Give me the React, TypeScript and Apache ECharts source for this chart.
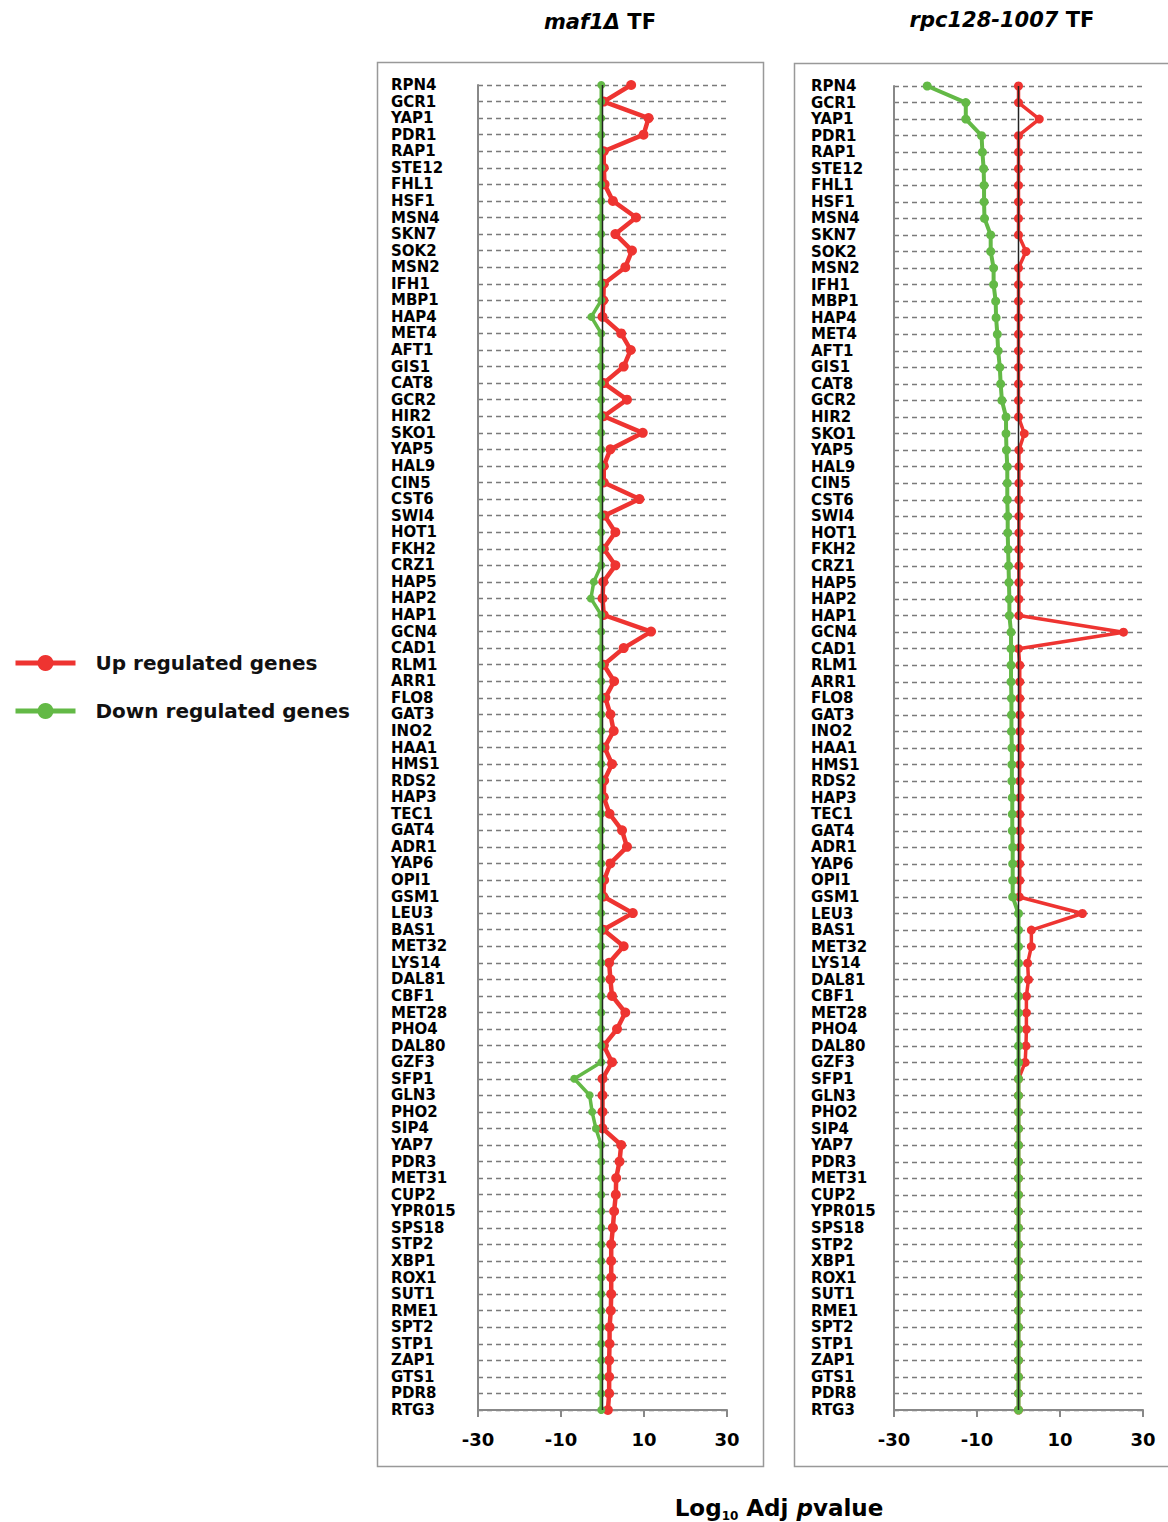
import React, { useEffect, useRef } from 'react';
import * as echarts from 'echarts';

const categories = [
  'RPN4', 'GCR1', 'YAP1', 'PDR1', 'RAP1', 'STE12', 'FHL1', 'HSF1', 'MSN4', 'SKN7',
  'SOK2', 'MSN2', 'IFH1', 'MBP1', 'HAP4', 'MET4', 'AFT1', 'GIS1', 'CAT8', 'GCR2',
  'HIR2', 'SKO1', 'YAP5', 'HAL9', 'CIN5', 'CST6', 'SWI4', 'HOT1', 'FKH2', 'CRZ1',
  'HAP5', 'HAP2', 'HAP1', 'GCN4', 'CAD1', 'RLM1', 'ARR1', 'FLO8', 'GAT3', 'INO2',
  'HAA1', 'HMS1', 'RDS2', 'HAP3', 'TEC1', 'GAT4', 'ADR1', 'YAP6', 'OPI1', 'GSM1',
  'LEU3', 'BAS1', 'MET32', 'LYS14', 'DAL81', 'CBF1', 'MET28', 'PHO4', 'DAL80', 'GZF3',
  'SFP1', 'GLN3', 'PHO2', 'SIP4', 'YAP7', 'PDR3', 'MET31', 'CUP2', 'YPR015', 'SPS18',
  'STP2', 'XBP1', 'ROX1', 'SUT1', 'RME1', 'SPT2', 'STP1', 'ZAP1', 'GTS1', 'PDR8',
  'RTG3',
];

// maf1Δ TF panel
const maf1Up = [
  6.9, 0.3, 11.1, 9.9, 0.3, 0.3, 0.5, 2.5, 8.1, 3.1,
  7.1, 5.5, 0.3, 0.2, 0.0, 4.5, 6.8, 5.1, 0.3, 5.9,
  0.3, 9.7, 1.9, 0.3, 0.3, 8.9, 0.5, 3.1, 0.3, 3.1,
  0.2, 0.0, 0.3, 11.7, 5.1, 0.3, 2.8, 0.7, 1.9, 2.7,
  0.5, 2.3, 0.4, 0.3, 1.7, 4.7, 5.9, 1.9, 0.4, 0.2,
  7.3, 0.2, 5.1, 1.6, 1.9, 2.3, 5.5, 3.5, 0.3, 2.3,
  0.0, 0.0, 0.0, 0.0, 4.5, 4.1, 3.3, 3.2, 2.8, 2.5,
  2.1, 2.1, 2.1, 2.1, 2.0, 1.7, 1.7, 1.6, 1.6, 1.6,
  1.3,
];
const maf1Down = [
  -0.3, -0.3, -0.3, -0.3, -0.3, -0.3, -0.3, -0.3, -0.3, -0.3,
  -0.3, -0.3, -0.3, -0.3, -2.7, -0.3, -0.3, -0.3, -0.3, -0.3,
  -0.3, -0.3, -0.3, -0.3, -0.3, -0.3, -0.3, -0.3, -0.3, -0.3,
  -2.1, -2.8, -0.3, -0.3, -0.3, -0.3, -0.3, -0.3, -0.3, -0.3,
  -0.3, -0.3, -0.3, -0.3, -0.3, -0.3, -0.3, -0.3, -0.3, -0.3,
  -0.3, -0.3, -0.3, -0.3, -0.3, -0.3, -0.3, -0.3, -0.3, -0.3,
  -6.8, -3.1, -2.5, -1.6, -0.3, -0.3, -0.3, -0.3, -0.3, -0.3,
  -0.3, -0.3, -0.3, -0.3, -0.3, -0.3, -0.3, -0.3, -0.3, -0.3,
  -0.3,
];

// rpc128-1007 TF panel
const rpcUp = [
  0.0, 0.0, 5.0, 0.0, 0.0, 0.0, 0.0, 0.0, 0.0, 0.0,
  1.8, 0.0, 0.0, 0.0, 0.0, 0.0, 0.0, 0.0, 0.0, 0.0,
  0.0, 1.4, 0.1, 0.1, 0.1, 0.1, 0.1, 0.1, 0.1, 0.1,
  0.1, 0.1, 0.1, 25.3, 0.0, 0.3, 0.3, 0.3, 0.3, 0.3,
  0.3, 0.3, 0.3, 0.3, 0.3, 0.3, 0.3, 0.3, 0.3, 0.2,
  15.4, 3.1, 3.1, 2.2, 2.4, 1.9, 1.9, 1.9, 1.8, 1.6,
  0.0, 0.0, 0.0, 0.0, 0.0, 0.0, 0.0, 0.0, 0.0, 0.0,
  0.0, 0.0, 0.0, 0.0, 0.0, 0.0, 0.0, 0.0, 0.0, 0.0,
  0.0,
];
const rpcDown = [
  -22.0, -12.7, -12.7, -8.9, -8.7, -8.4, -8.3, -8.3, -8.2, -6.7,
  -6.7, -6.0, -6.0, -5.5, -5.4, -5.1, -4.9, -4.5, -4.3, -4.0,
  -3.0, -3.0, -2.9, -2.7, -2.7, -2.7, -2.6, -2.6, -2.5, -2.4,
  -2.3, -2.2, -2.2, -1.8, -1.8, -1.8, -1.8, -1.7, -1.7, -1.7,
  -1.6, -1.6, -1.6, -1.5, -1.5, -1.5, -1.4, -1.4, -1.4, -1.4,
  0.0, 0.0, 0.0, 0.0, 0.0, 0.0, 0.0, 0.0, 0.0, 0.0,
  0.0, 0.0, 0.0, 0.0, 0.0, 0.0, 0.0, 0.0, 0.0, 0.0,
  0.0, 0.0, 0.0, 0.0, 0.0, 0.0, 0.0, 0.0, 0.0, 0.0,
  0.0,
];

const xMin = -30;
const xMax = 30;
const xInterval = 20;
const seriesNames = ['Up regulated genes', 'Down regulated genes'];
const panelTitles = [
  { name: 'maf1Δ', suffix: 'TF' },
  { name: 'rpc128-1007', suffix: 'TF' },
];

const RED = '#EE3431';
const GREEN = '#63B946';
const FONT = 'DejaVu Sans';

const pair = (vals: number[]) => vals.map((v, i) => [v, categories[i]]);
const zeroLine = [[0, categories[0]], [0, categories[categories.length - 1]]];

function panelSeries(
  idx: number, up: number[], down: number[],
  upWidth: number, upSize: number, downWidth: number, downSize: number,
) {
  return [
    {
      name: seriesNames[0], type: 'line', xAxisIndex: idx, yAxisIndex: idx,
      data: pair(up), symbol: 'circle', symbolSize: upSize,
      lineStyle: { color: RED, width: upWidth }, itemStyle: { color: RED }, z: 2,
    },
    {
      name: seriesNames[1], type: 'line', xAxisIndex: idx, yAxisIndex: idx,
      data: pair(down), symbol: 'circle', symbolSize: downSize,
      lineStyle: { color: GREEN, width: downWidth }, itemStyle: { color: GREEN }, z: 3,
    },
    {
      name: 'zero', type: 'line', xAxisIndex: idx, yAxisIndex: idx,
      data: zeroLine, symbol: 'none', silent: true,
      lineStyle: { color: '#222', width: 1.5 }, z: 4,
    },
  ];
}

function yAxisOf(gridIndex: number, margin: number) {
  return {
    type: 'category', gridIndex, data: categories, inverse: true, boundaryGap: false,
    axisLine: { show: true, onZero: false, lineStyle: { color: '#888', width: 2 } },
    axisTick: { show: false },
    axisLabel: {
      interval: 0, align: 'left', margin, fontFamily: FONT, fontWeight: 'bold',
      fontSize: 15, color: '#000',
    },
    splitLine: { show: true, interval: 0, lineStyle: { color: '#7a7a7a', width: 1.4, type: [5, 4] } },
  };
}

function xAxisOf(gridIndex: number) {
  return {
    type: 'value', gridIndex, min: xMin, max: xMax, interval: xInterval,
    axisLine: { show: true, onZero: false, lineStyle: { color: '#888', width: 2 } },
    axisTick: { show: true, length: 7, lineStyle: { color: '#888', width: 2 } },
    axisLabel: { margin: 20, fontFamily: FONT, fontWeight: 'bold', fontSize: 18, color: '#000' },
    splitLine: { show: false },
  };
}

const titleRich = {
  i: { fontFamily: FONT, fontStyle: 'italic', fontWeight: 'bold', fontSize: 21, fill: '#000', color: '#000' },
  b: { fontFamily: FONT, fontWeight: 'bold', fontSize: 21, fill: '#000', color: '#000' },
};

export default function App() {
  const ref = useRef<HTMLDivElement>(null);
  useEffect(() => {
    if (!ref.current) return;
    const chart = echarts.init(ref.current, undefined, { renderer: 'svg' });
    const option: any = {
      animation: false,
      backgroundColor: '#fff',
      grid: [
        { left: 478, top: 85, width: 249, height: 1325 },
        { left: 894, top: 86, width: 249, height: 1324 },
      ],
      xAxis: [xAxisOf(0), xAxisOf(1)],
      yAxis: [yAxisOf(0, 87), yAxisOf(1, 83)],
      legend: {
        data: seriesNames, orient: 'vertical', left: 8, top: 648,
        itemWidth: 60, itemHeight: 20, itemGap: 28, selectedMode: false,
        lineStyle: { width: 5 },
        textStyle: { fontFamily: FONT, fontWeight: 'bold', fontSize: 20, color: '#111', padding: [0, 0, 0, 15] },
      },
      series: [
        ...panelSeries(0, maf1Up, maf1Down, 4.5, 10, 3.5, 8),
        ...panelSeries(1, rpcUp, rpcDown, 3.5, 9, 4, 9),
      ],
      graphic: [
        { type: 'rect', shape: { x: 377.5, y: 62.5, width: 386, height: 1404 }, style: { fill: 'none', stroke: '#999', lineWidth: 1.5 }, silent: true },
        { type: 'rect', shape: { x: 794.5, y: 63.5, width: 400, height: 1403 }, style: { fill: 'none', stroke: '#999', lineWidth: 1.5 }, silent: true },
        {
          type: 'text', x: 600, y: 22,
          style: {
            text: `{i|${panelTitles[0].name}} {b|${panelTitles[0].suffix}}`, rich: titleRich,
            align: 'center', verticalAlign: 'middle', fill: '#000', font: `bold 21px ${FONT}`,
          },
        },
        {
          type: 'text', x: 1002, y: 20,
          style: {
            text: `{i|${panelTitles[1].name}} {b|${panelTitles[1].suffix}}`, rich: titleRich,
            align: 'center', verticalAlign: 'middle', fill: '#000', font: `bold 21px ${FONT}`,
          },
        },
        {
          type: 'text', x: 779, y: 1508,
          style: {
            text: '{b|Log}{s|10}{b| Adj }{p|p}{b|value}',
            rich: {
              b: { fontFamily: FONT, fontWeight: 'bold', fontSize: 23, lineHeight: 28, fill: '#000' },
              s: { fontFamily: FONT, fontWeight: 'bold', fontSize: 12, lineHeight: 12, verticalAlign: 'bottom', fill: '#000' },
              p: { fontFamily: FONT, fontWeight: 'bold', fontStyle: 'italic', fontSize: 23, lineHeight: 28, fill: '#000' },
            },
            align: 'center', verticalAlign: 'middle', fill: '#000', font: `bold 23px ${FONT}`,
          },
        },
      ],
    };
    chart.setOption(option);
    return () => chart.dispose();
  }, []);
  return (
    <div
      ref={ref}
      style={{ position: 'absolute', left: 0, top: 0, width: 1168, height: 1522, background: '#fff' }}
    />
  );
}
